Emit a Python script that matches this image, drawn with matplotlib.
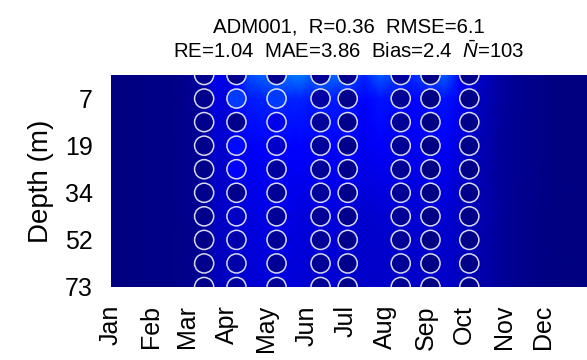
import numpy as np
import matplotlib.pyplot as plt

plt.rcParams['font.family'] = ['Liberation Sans', 'DejaVu Sans']
plt.rcParams['mathtext.fontset'] = 'custom'
plt.rcParams['mathtext.rm'] = 'Liberation Sans'
plt.rcParams['mathtext.it'] = 'Liberation Sans:italic'

# month ticks (day of year)
month_days = [0, 31, 59, 90, 120, 151, 181, 212, 243, 273, 304, 334]
month_names = ["Jan", "Feb", "Mar", "Apr", "May", "Jun",
               "Jul", "Aug", "Sep", "Oct", "Nov", "Dec"]

# depth levels (row index) and labels
depth_rows = np.arange(10)
depth_tick_rows = [1, 3, 5, 7, 9]
depth_labels = ["7", "19", "34", "52", "73"]

# model field: time nodes x depth nodes
field_days = [0, 53, 72, 80, 88, 97, 107, 119, 128, 138, 146, 154, 162, 169,
              183, 196, 208, 220, 231, 247, 258, 270, 285, 301, 316, 340, 368]
field_rows = [0, 1, 3, 6, 9]
field_vals = np.array([
    [0.0, 0.0, 0.0, 0.0, 0.0],
    [0.7, 0.6, 0.6, 0.5, 0.5],
    [2.0, 1.8, 1.6, 1.4, 1.2],
    [6.0, 5.0, 4.0, 3.4, 3.0],
    [5.5, 4.8, 4.2, 3.8, 3.4],
    [8.0, 6.5, 5.2, 4.4, 4.0],
    [12.0, 9.0, 6.5, 5.0, 4.4],
    [13.5, 9.5, 7.0, 5.2, 4.6],
    [14.0, 10.0, 7.5, 5.4, 4.8],
    [14.5, 9.5, 7.5, 5.3, 4.8],
    [15.0, 9.5, 7.5, 5.0, 4.6],
    [13.0, 9.0, 7.3, 4.9, 4.4],
    [14.5, 9.5, 7.5, 5.0, 4.4],
    [14.0, 9.3, 7.3, 4.9, 4.4],
    [12.5, 8.7, 6.8, 4.6, 4.2],
    [9.5, 7.5, 6.0, 4.2, 3.8],
    [13.0, 8.5, 6.5, 4.3, 3.9],
    [11.0, 8.0, 6.3, 4.4, 3.9],
    [10.0, 7.5, 6.1, 4.3, 3.9],
    [11.5, 8.0, 6.3, 4.3, 3.8],
    [13.0, 8.5, 6.5, 4.3, 3.8],
    [7.5, 6.0, 4.9, 3.6, 3.3],
    [3.8, 3.3, 2.9, 2.6, 2.4],
    [1.8, 1.7, 1.6, 1.5, 1.5],
    [1.0, 1.0, 1.0, 0.9, 0.9],
    [0.3, 0.3, 0.3, 0.3, 0.3],
    [0.0, 0.0, 0.0, 0.0, 0.0],
])

# observations: sampling days, value per depth row
obs_days = [72, 97, 128, 162, 183, 224, 247, 277]
obs_vals = np.array([
    [0.8, 0.9, 0.8, 0.8, 0.7, 0.8, 0.8, 0.7, 0.8, 0.7],
    [0.9, 11.0, 0.9, 8.0, 6.8, 0.9, 3.6, 2.5, 2.2, 1.7],
    [1.0, 11.0, 5.8, 3.8, 1.7, 1.2, 1.2, 1.2, 1.2, 1.2],
    [1.2, 2.0, 1.5, 1.5, 1.5, 1.5, 1.4, 1.4, 1.4, 1.4],
    [0.9, 0.9, 0.9, 0.9, 0.9, 0.9, 0.9, 0.9, 0.9, 0.9],
    [1.5, 1.2, 1.2, 1.2, 1.2, 1.2, 1.2, 1.2, 1.2, 1.2],
    [0.3, 0.3, 0.3, 0.3, 0.3, 0.3, 0.3, 0.3, 0.3, 0.3],
    [0.6, 0.6, 0.6, 0.6, 0.6, 0.6, 0.6, 0.6, 0.6, 0.6],
])

vmin, vmax = 0, 60

fig = plt.figure(figsize=(5.87, 3.6), dpi=100)
ax = fig.add_axes([111/587, 73/360, 476/587, 212/360])

ax.pcolormesh(field_days, field_rows, field_vals.T, shading='gouraud',
              cmap='jet', vmin=vmin, vmax=vmax)

for d, col in zip(obs_days, obs_vals):
    ax.scatter([d]*len(depth_rows), depth_rows, c=col, cmap='jet',
               vmin=vmin, vmax=vmax, s=190, edgecolors=(1, 1, 1, 0.85),
               linewidths=1.1, zorder=3)

ax.set_xlim(0, 368)
ax.set_ylim(9, 0)
ax.set_xticks(month_days)
ax.set_xticklabels(month_names, rotation=90, fontsize=18)
ax.set_yticks(depth_tick_rows)
ax.set_yticklabels(depth_labels, fontsize=18)
ax.tick_params(length=0, pad=13)
ax.set_ylabel("Depth (m)", fontsize=20, labelpad=8)
for s in ax.spines.values():
    s.set_visible(False)

ax.set_title("ADM001,  R=0.36  RMSE=6.1\n"
             "RE=1.04  MAE=3.86  Bias=2.4  $\\bar{N}$=103",
             fontsize=14.7, pad=12)

fig.savefig("out.png", dpi=100)
